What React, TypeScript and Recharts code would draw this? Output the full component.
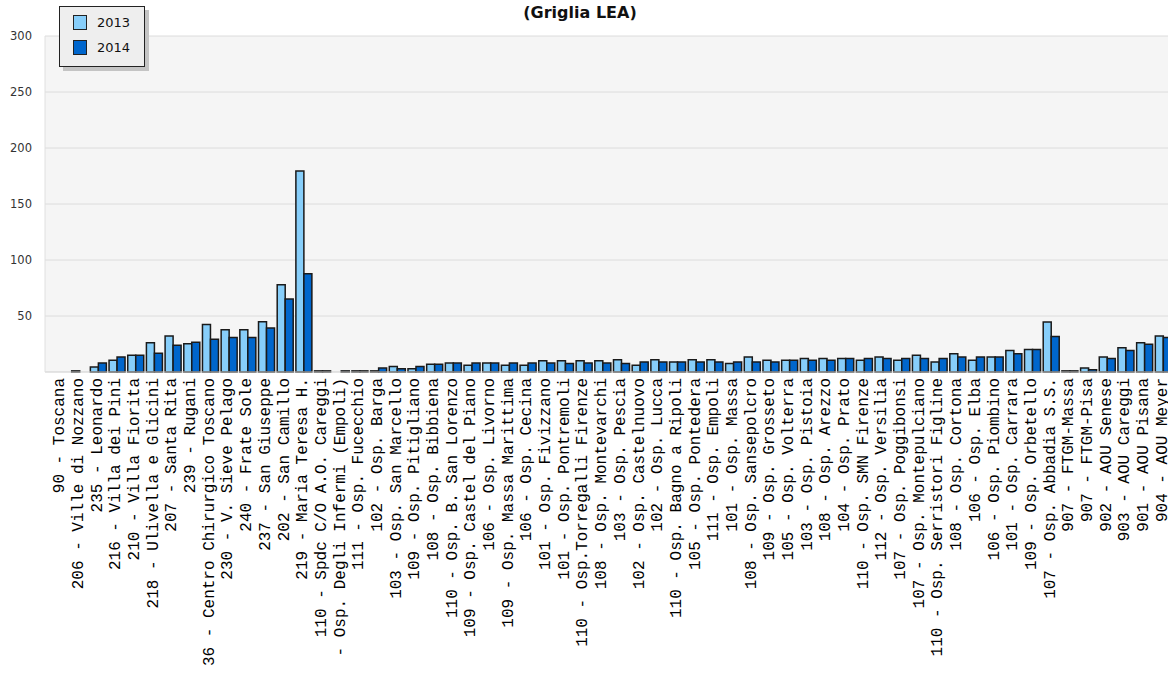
import { BarChart, Bar, XAxis, YAxis, CartesianGrid } from "recharts";

const categories = [
  "90 - Toscana", "206 - Ville di Nozzano", "235 - Leonardo", "216 - Villa dei Pini",
  "210 - Villa Fiorita", "218 - Ulivella e Glicini", "207 - Santa Rita", "239 - Rugani",
  "36 - Centro Chirurgico Toscano", "230 - V. Sieve Pelago", "240 - Frate Sole", "237 - San Giuseppe",
  "202 - San Camillo", "219 - Maria Teresa H.", "110 - Spdc C/O A.O. Careggi", "- Osp. Degli Infermi (Empoli)",
  "111 - Osp. Fucecchio", "102 - Osp. Barga", "103 - Osp. San Marcello", "109 - Osp. Pitigliano",
  "108 - Osp. Bibbiena", "110 - Osp. B. San Lorenzo", "109 - Osp. Castel del Piano", "106 - Osp. Livorno",
  "109 - Osp. Massa Marittima", "106 - Osp. Cecina", "101 - Osp. Fivizzano", "101 - Osp. Pontremoli",
  "110 - Osp.Torregalli Firenze", "108 - Osp. Montevarchi", "103 - Osp. Pescia", "102 - Osp. Castelnuovo",
  "102 - Osp. Lucca", "110 - Osp. Bagno a Ripoli", "105 - Osp. Pontedera", "111 - Osp. Empoli",
  "101 - Osp. Massa", "108 - Osp. Sansepolcro", "109 - Osp. Grosseto", "105 - Osp. Volterra",
  "103 - Osp. Pistoia", "108 - Osp. Arezzo", "104 - Osp. Prato", "110 - Osp. SMN Firenze",
  "112 - Osp. Versilia", "107 - Osp. Poggibonsi", "107 - Osp. Montepulciano", "110 - Osp. Serristori Figline",
  "108 - Osp. Cortona", "106 - Osp. Elba", "106 - Osp. Piombino", "101 - Osp. Carrara",
  "109 - Osp. Orbetello", "107 - Osp. Abbadia S.S.", "907 - FTGM-Massa", "907 - FTGM-Pisa",
  "902 - AOU Senese", "903 - AOU Careggi", "901 - AOU Pisana", "904 - AOU Meyer",
];

const values2013 = [
  0, 1, 4.5, 10.4, 14.9, 26.2, 32.1, 25.3, 42.3, 37.8, 37.8, 44.9,
  78, 179.5, 1, 0, 1, 1, 5, 3, 7, 8, 6, 8,
  6, 6, 10, 10, 10, 10, 11, 6, 11, 9, 11, 11,
  7.5, 13.5, 10.4, 10.4, 12, 12, 12, 10.4, 13.4, 10.4, 14.9, 9,
  16.4, 10.4, 13.4, 19.3, 20.2, 44.6, 1, 3.6, 13.4, 21.7, 26.2, 32.1,
];

const values2014 = [
  0, 0, 8, 13.4, 14.9, 16.7, 23.8, 26.5, 29.2, 30.7, 30.7, 39.3,
  65.2, 87.8, 1, 1, 1, 3.5, 3, 5, 7, 8, 8, 8,
  8, 8, 8, 7.5, 8, 8, 7.5, 9, 9, 9, 9, 9,
  9, 9, 9, 10.4, 10.4, 10.4, 12, 12, 12, 12, 12, 12,
  13.4, 13.4, 13.4, 16.4, 20.2, 31.8, 1, 2, 12, 19.3, 24.7, 30.7,
];

const yTicks = [50, 100, 150, 200, 250, 300];

const series = [
  { key: "y2013", name: "2013", color: "#87cefa" },
  { key: "y2014", name: "2014", color: "#0066cc" },
];

const data = categories.map((name, i) => ({
  name,
  y2013: values2013[i],
  y2014: values2014[i],
}));

const XTick = ({ x, y, payload }: any) => (
  <g transform={`translate(${x},${y})`}>
    <text
      x={-6}
      y={3}
      transform="rotate(-90)"
      textAnchor="end"
      fontFamily="'Liberation Mono', monospace"
      fontSize={16}
      fill="#000"
    >
      {payload.value}
    </text>
  </g>
);

export default function App() {
  return (
    <div style={{ position: "absolute", left: 0, top: 0, width: 1168, height: 675, overflow: "hidden", background: "white" }}>
      <BarChart
        width={1180}
        height={675}
        data={data}
        margin={{ top: 36, right: 7, left: 0, bottom: 0 }}
        barCategoryGap={1}
        barGap={0}
      >
        <CartesianGrid fill="#f5f5f5" stroke="#dcdcdc" vertical={false} horizontalValues={yTicks} />
        <XAxis
          dataKey="name"
          interval={0}
          height={303}
          tick={<XTick />}
          tickLine={false}
          tickSize={0}
          tickMargin={0}
          axisLine={{ stroke: "#cccccc" }}
          padding={{ left: 7, right: 0 }}
        />
        <YAxis
          width={45}
          domain={[0, 300]}
          ticks={yTicks}
          tickLine={false}
          tickSize={0}
          tickMargin={13}
          axisLine={{ stroke: "#e0e0e0" }}
          tick={{ fontSize: 11.5, fill: "#333", fontFamily: "'DejaVu Sans', sans-serif" }}
        />
        {series.map(s => (
          <Bar
            key={s.key}
            dataKey={s.key}
            name={s.name}
            fill={s.color}
            stroke="#1a1a1a"
            strokeWidth={1.5}
            isAnimationActive={false}
          />
        ))}
      </BarChart>

      {/* title (upper part is cut off in the reference) */}
      <div style={{
        position: "absolute", left: 480, top: 3, width: 200, textAlign: "center",
        fontFamily: "'DejaVu Sans', sans-serif", fontWeight: 700, fontSize: 16, color: "#111",
      }}>
        (Griglia LEA)
      </div>

      {/* legend box */}
      <div style={{
        position: "absolute", left: 59, top: 6, width: 84, height: 59,
        background: "#eeeeee", border: "1px solid #222",
        boxShadow: "4px 4px 0 #c4c4c4",
        fontFamily: "'DejaVu Sans', sans-serif", fontSize: 13, color: "#111",
      }}>
        {series.map((s, i) => (
          <div key={s.key} style={{ position: "absolute", left: 13, top: 8 + i * 25, display: "flex", alignItems: "center", gap: 10 }}>
            <div style={{ width: 12, height: 13, background: s.color, border: "1px solid #222" }} />
            <span>{s.name}</span>
          </div>
        ))}
      </div>
    </div>
  );
}
